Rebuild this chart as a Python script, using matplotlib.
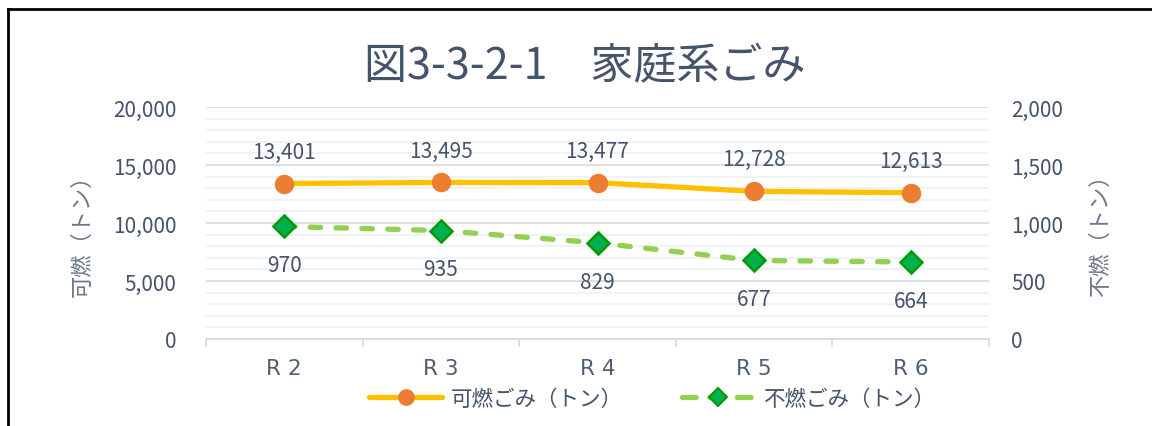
import matplotlib
matplotlib.use("Agg")
import matplotlib.pyplot as plt
from matplotlib.lines import Line2D
from matplotlib.ticker import FuncFormatter, MultipleLocator

plt.rcParams['font.family'] = ['Noto Sans CJK JP', 'DejaVu Sans']

categories = ["R 2", "R 3", "R 4", "R 5", "R 6"]
burnable = [13401, 13495, 13477, 12728, 12613]
nonburnable = [970, 935, 829, 677, 664]
title = "図3-3-2-1　家庭系ごみ"
left_label = "可燃（トン）"
right_label = "不燃（トン）"
series_names = ["可燃ごみ（トン）", "不燃ごみ（トン）"]

text_c = "#44546A"
label_c = "#6A7889"
major_grid = "#D9DEE5"
minor_grid = "#EEF1F4"

W, H = 1152, 427
fig = plt.figure(figsize=(W/100, H/100), dpi=100)
ax = fig.add_axes([206/W, 1-340/H, (989-206)/W, (340-108)/H])
ax2 = ax.twinx()

x = list(range(len(categories)))

ax.set_xlim(-0.5, len(categories)-0.5)
ax.set_ylim(0, 20000)
ax2.set_ylim(0, 2000)

# grid
ax.yaxis.set_major_locator(MultipleLocator(5000))
ax.yaxis.set_minor_locator(MultipleLocator(1000))
ax.grid(which='minor', axis='y', color=minor_grid, lw=1.2, zorder=0)
ax.grid(which='major', axis='y', color=major_grid, lw=1.4, zorder=0)
ax.set_axisbelow(True)
ax2.yaxis.set_major_locator(MultipleLocator(500))

fmt = FuncFormatter(lambda v, p: f"{int(v):,}")
ax.yaxis.set_major_formatter(fmt)
ax2.yaxis.set_major_formatter(fmt)

for a in (ax, ax2):
    for s in ('top', 'left', 'right'):
        a.spines[s].set_visible(False)
    a.spines['bottom'].set_color(major_grid)
    a.spines['bottom'].set_linewidth(1.4)

ax.tick_params(axis='y', which='both', length=0, labelsize=15, labelcolor=text_c, pad=21)
ax2.tick_params(axis='y', which='both', length=0, labelsize=15, labelcolor=text_c, pad=16)
ax.set_xticks(x)
ax.set_xticklabels(categories, family=['DejaVu Sans'])
ax.set_xticks([i-0.5 for i in range(len(categories)+1)], minor=True)
ax.tick_params(axis='x', which='major', length=0, labelsize=15.5, labelcolor="#4F5F73", pad=14)
ax.tick_params(axis='x', which='minor', length=6, width=1.4, color=major_grid, direction='out')

dash = (0, (2.0, 2.9))
l1, = ax.plot(x, burnable, color="#FFC000", lw=3.8, marker='o', ms=13,
              markerfacecolor="#ED7D31", markeredgecolor="#ED7D31",
              solid_capstyle='round', zorder=5)
l2, = ax2.plot(x, nonburnable, color="#92D050", lw=3.8, ls=dash,
               dash_capstyle='round', marker='D', ms=11.5,
               markerfacecolor="#00B050", markeredgecolor="#009A00", markeredgewidth=1.8,
               zorder=5)

for xi, v in zip(x, burnable):
    ax.annotate(f"{v:,}", (xi, v), xytext=(0, 23), textcoords='offset points',
                ha='center', va='center', fontsize=15, color=text_c)
for xi, v in zip(x, nonburnable):
    ax2.annotate(f"{v:,}", (xi, v), xytext=(0, -28), textcoords='offset points',
                 ha='center', va='center', fontsize=15, color=text_c)

fig.text(585/W, 1-67/H, title, ha='center', va='center', fontsize=31, color=text_c)
fig.text(82/W, 1-230/H, left_label, rotation=90, ha='center', va='center',
         fontsize=16, color=label_c)
fig.text(1100/W, 1-230/H, right_label, rotation=90, ha='center', va='center',
         fontsize=16, color=label_c)

# legend proxies with smaller markers, as in the reference
p1 = Line2D([], [], color="#FFC000", lw=3.8, marker='o', ms=11,
            markerfacecolor="#ED7D31", markeredgecolor="#ED7D31", solid_capstyle='round')
p2 = Line2D([], [], color="#92D050", lw=3.8, ls=(0, (2.6, 2.6)), dash_capstyle='round',
            marker='D', ms=9, markerfacecolor="#00B050", markeredgecolor="#009A00",
            markeredgewidth=1.5)
leg = fig.legend([p1, p2], series_names, loc='center', ncol=2,
                 bbox_to_anchor=(652/W, 1-400/H), frameon=False, fontsize=15.5,
                 handlelength=3.4, handletextpad=0.37, columnspacing=2.75,
                 labelcolor=text_c)

# frame (top and left edges visible)
fig.add_artist(Line2D([8/W, 1.0], [1-10/H, 1-10/H], color='black', lw=2,
                      transform=fig.transFigure))
fig.add_artist(Line2D([8/W, 8/W], [1-10/H, 0.0], color='black', lw=2,
                      transform=fig.transFigure))

fig.savefig("out.png", dpi=100)
